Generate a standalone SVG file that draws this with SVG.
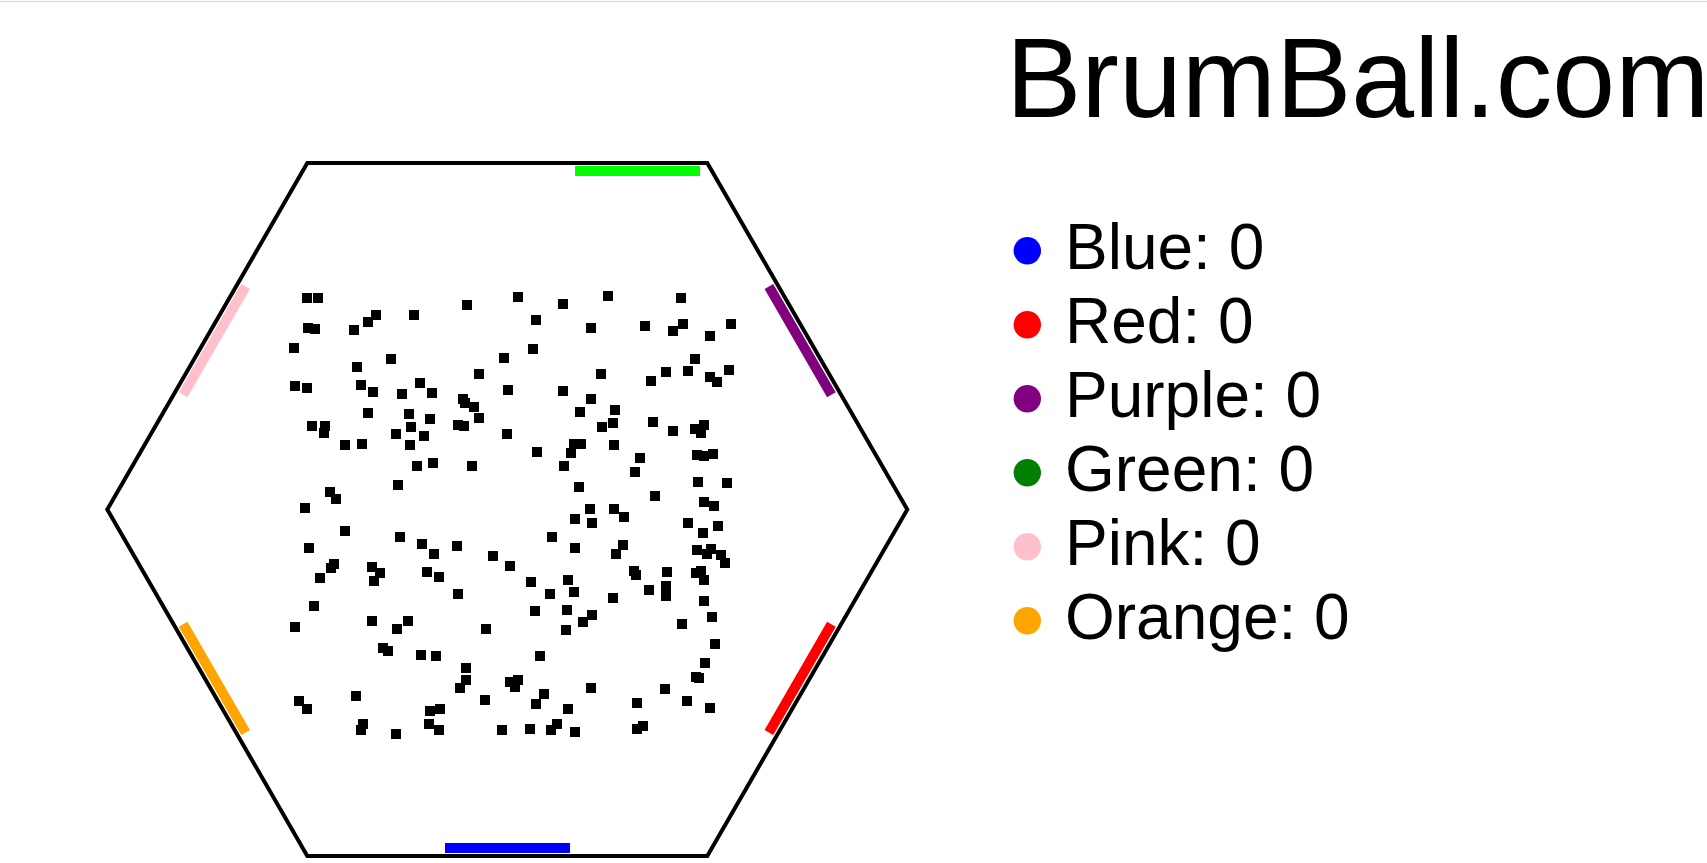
<svg xmlns="http://www.w3.org/2000/svg" width="1707" height="863" viewBox="0 0 1707 863">
<style>
.b{fill:#000}
.goal{stroke-width:10;stroke-linecap:butt}
.lg{font-family:"Liberation Sans",Arial,sans-serif;font-size:64px;fill:#000}
.title{font-family:"Liberation Sans",Arial,sans-serif;font-size:113px;fill:#000}
</style>
<rect x="0" y="0" width="1707" height="863" fill="#fff"/>
<rect x="0" y="1" width="1707" height="1" fill="#d3d3d3"/>
<g id="arena">
<polygon points="907.3,509.5 707.3,855.9 307.3,855.9 107.3,509.5 307.3,163.1 707.3,163.1" fill="none" stroke="#000" stroke-width="4"/>
</g>
<g id="goals">
<line id="goal-green" class="goal" x1="575" y1="171" x2="700" y2="171" stroke="#00ff00"/>
<line id="goal-blue" class="goal" x1="445" y1="848" x2="570" y2="848" stroke="#0000ff"/>
<line id="goal-pink" class="goal" x1="245.6" y1="286.5" x2="183.1" y2="394.7" stroke="#ffc0cb"/>
<line id="goal-purple" class="goal" x1="768.9" y1="286.5" x2="831.4" y2="394.7" stroke="#800080"/>
<line id="goal-red" class="goal" x1="831.4" y1="624.3" x2="768.9" y2="732.5" stroke="#ff0000"/>
<line id="goal-orange" class="goal" x1="183.1" y1="624.3" x2="245.6" y2="732.5" stroke="#ffa500"/>
</g>
<g id="balls">
<rect class="b" x="302" y="293" width="10" height="10"/>
<rect class="b" x="313" y="293" width="10" height="10"/>
<rect class="b" x="462" y="300" width="10" height="10"/>
<rect class="b" x="371" y="310" width="10" height="10"/>
<rect class="b" x="409" y="310" width="10" height="10"/>
<rect class="b" x="363" y="317" width="10" height="10"/>
<rect class="b" x="303" y="323" width="10" height="10"/>
<rect class="b" x="310" y="324" width="10" height="10"/>
<rect class="b" x="349" y="325" width="10" height="10"/>
<rect class="b" x="289" y="343" width="10" height="10"/>
<rect class="b" x="386" y="354" width="10" height="10"/>
<rect class="b" x="499" y="353" width="10" height="10"/>
<rect class="b" x="352" y="362" width="10" height="10"/>
<rect class="b" x="474" y="369" width="10" height="10"/>
<rect class="b" x="290" y="381" width="10" height="10"/>
<rect class="b" x="302" y="383" width="10" height="10"/>
<rect class="b" x="356" y="380" width="10" height="10"/>
<rect class="b" x="368" y="387" width="10" height="10"/>
<rect class="b" x="415" y="378" width="10" height="10"/>
<rect class="b" x="397" y="389" width="10" height="10"/>
<rect class="b" x="427" y="388" width="10" height="10"/>
<rect class="b" x="458" y="394" width="10" height="10"/>
<rect class="b" x="460" y="398" width="10" height="10"/>
<rect class="b" x="469" y="402" width="10" height="10"/>
<rect class="b" x="503" y="385" width="10" height="10"/>
<rect class="b" x="363" y="408" width="10" height="10"/>
<rect class="b" x="404" y="409" width="10" height="10"/>
<rect class="b" x="425" y="414" width="10" height="10"/>
<rect class="b" x="474" y="413" width="10" height="10"/>
<rect class="b" x="307" y="421" width="10" height="10"/>
<rect class="b" x="320" y="421" width="10" height="10"/>
<rect class="b" x="319" y="428" width="10" height="10"/>
<rect class="b" x="406" y="422" width="10" height="10"/>
<rect class="b" x="453" y="420" width="10" height="10"/>
<rect class="b" x="459" y="421" width="10" height="10"/>
<rect class="b" x="391" y="429" width="10" height="10"/>
<rect class="b" x="419" y="431" width="10" height="10"/>
<rect class="b" x="502" y="429" width="10" height="10"/>
<rect class="b" x="340" y="440" width="10" height="10"/>
<rect class="b" x="357" y="439" width="10" height="10"/>
<rect class="b" x="405" y="440" width="10" height="10"/>
<rect class="b" x="412" y="461" width="10" height="10"/>
<rect class="b" x="428" y="458" width="10" height="10"/>
<rect class="b" x="467" y="461" width="10" height="10"/>
<rect class="b" x="393" y="480" width="10" height="10"/>
<rect class="b" x="325" y="487" width="10" height="10"/>
<rect class="b" x="331" y="494" width="10" height="10"/>
<rect class="b" x="300" y="503" width="10" height="10"/>
<rect class="b" x="340" y="526" width="10" height="10"/>
<rect class="b" x="395" y="532" width="10" height="10"/>
<rect class="b" x="304" y="543" width="10" height="10"/>
<rect class="b" x="417" y="539" width="10" height="10"/>
<rect class="b" x="452" y="541" width="10" height="10"/>
<rect class="b" x="429" y="549" width="10" height="10"/>
<rect class="b" x="488" y="551" width="10" height="10"/>
<rect class="b" x="329" y="559" width="10" height="10"/>
<rect class="b" x="326" y="563" width="10" height="10"/>
<rect class="b" x="367" y="562" width="10" height="10"/>
<rect class="b" x="375" y="568" width="10" height="10"/>
<rect class="b" x="369" y="576" width="10" height="10"/>
<rect class="b" x="422" y="567" width="10" height="10"/>
<rect class="b" x="434" y="572" width="10" height="10"/>
<rect class="b" x="505" y="561" width="10" height="10"/>
<rect class="b" x="315" y="573" width="10" height="10"/>
<rect class="b" x="453" y="589" width="10" height="10"/>
<rect class="b" x="309" y="601" width="10" height="10"/>
<rect class="b" x="290" y="622" width="10" height="10"/>
<rect class="b" x="367" y="616" width="10" height="10"/>
<rect class="b" x="403" y="616" width="10" height="10"/>
<rect class="b" x="392" y="624" width="10" height="10"/>
<rect class="b" x="481" y="624" width="10" height="10"/>
<rect class="b" x="378" y="643" width="10" height="10"/>
<rect class="b" x="383" y="646" width="10" height="10"/>
<rect class="b" x="416" y="650" width="10" height="10"/>
<rect class="b" x="431" y="651" width="10" height="10"/>
<rect class="b" x="461" y="663" width="10" height="10"/>
<rect class="b" x="461" y="675" width="10" height="10"/>
<rect class="b" x="455" y="683" width="10" height="10"/>
<rect class="b" x="505" y="677" width="10" height="10"/>
<rect class="b" x="351" y="691" width="10" height="10"/>
<rect class="b" x="294" y="696" width="10" height="10"/>
<rect class="b" x="302" y="704" width="10" height="10"/>
<rect class="b" x="480" y="695" width="10" height="10"/>
<rect class="b" x="425" y="706" width="10" height="10"/>
<rect class="b" x="435" y="704" width="10" height="10"/>
<rect class="b" x="358" y="719" width="10" height="10"/>
<rect class="b" x="356" y="725" width="10" height="10"/>
<rect class="b" x="424" y="719" width="10" height="10"/>
<rect class="b" x="434" y="725" width="10" height="10"/>
<rect class="b" x="391" y="729" width="10" height="10"/>
<rect class="b" x="497" y="725" width="10" height="10"/>
<rect class="b" x="513" y="292" width="10" height="10"/>
<rect class="b" x="558" y="299" width="10" height="10"/>
<rect class="b" x="603" y="291" width="10" height="10"/>
<rect class="b" x="676" y="293" width="10" height="10"/>
<rect class="b" x="531" y="315" width="10" height="10"/>
<rect class="b" x="586" y="323" width="10" height="10"/>
<rect class="b" x="640" y="321" width="10" height="10"/>
<rect class="b" x="668" y="326" width="10" height="10"/>
<rect class="b" x="678" y="319" width="10" height="10"/>
<rect class="b" x="726" y="319" width="10" height="10"/>
<rect class="b" x="705" y="331" width="10" height="10"/>
<rect class="b" x="528" y="344" width="10" height="10"/>
<rect class="b" x="690" y="354" width="10" height="10"/>
<rect class="b" x="596" y="369" width="10" height="10"/>
<rect class="b" x="661" y="367" width="10" height="10"/>
<rect class="b" x="683" y="366" width="10" height="10"/>
<rect class="b" x="646" y="376" width="10" height="10"/>
<rect class="b" x="705" y="372" width="10" height="10"/>
<rect class="b" x="712" y="377" width="10" height="10"/>
<rect class="b" x="724" y="365" width="10" height="10"/>
<rect class="b" x="558" y="386" width="10" height="10"/>
<rect class="b" x="586" y="394" width="10" height="10"/>
<rect class="b" x="575" y="407" width="10" height="10"/>
<rect class="b" x="610" y="405" width="10" height="10"/>
<rect class="b" x="597" y="422" width="10" height="10"/>
<rect class="b" x="608" y="418" width="10" height="10"/>
<rect class="b" x="648" y="417" width="10" height="10"/>
<rect class="b" x="668" y="426" width="10" height="10"/>
<rect class="b" x="690" y="424" width="10" height="10"/>
<rect class="b" x="699" y="420" width="10" height="10"/>
<rect class="b" x="696" y="428" width="10" height="10"/>
<rect class="b" x="569" y="439" width="10" height="10"/>
<rect class="b" x="576" y="439" width="10" height="10"/>
<rect class="b" x="566" y="448" width="10" height="10"/>
<rect class="b" x="609" y="440" width="10" height="10"/>
<rect class="b" x="532" y="447" width="10" height="10"/>
<rect class="b" x="559" y="461" width="10" height="10"/>
<rect class="b" x="635" y="453" width="10" height="10"/>
<rect class="b" x="630" y="467" width="10" height="10"/>
<rect class="b" x="692" y="450" width="10" height="10"/>
<rect class="b" x="699" y="451" width="10" height="10"/>
<rect class="b" x="708" y="449" width="10" height="10"/>
<rect class="b" x="574" y="482" width="10" height="10"/>
<rect class="b" x="650" y="491" width="10" height="10"/>
<rect class="b" x="693" y="477" width="10" height="10"/>
<rect class="b" x="722" y="478" width="10" height="10"/>
<rect class="b" x="699" y="497" width="10" height="10"/>
<rect class="b" x="709" y="501" width="10" height="10"/>
<rect class="b" x="585" y="504" width="10" height="10"/>
<rect class="b" x="609" y="504" width="10" height="10"/>
<rect class="b" x="619" y="512" width="10" height="10"/>
<rect class="b" x="570" y="514" width="10" height="10"/>
<rect class="b" x="587" y="518" width="10" height="10"/>
<rect class="b" x="683" y="518" width="10" height="10"/>
<rect class="b" x="713" y="521" width="10" height="10"/>
<rect class="b" x="698" y="528" width="10" height="10"/>
<rect class="b" x="547" y="532" width="10" height="10"/>
<rect class="b" x="570" y="543" width="10" height="10"/>
<rect class="b" x="618" y="540" width="10" height="10"/>
<rect class="b" x="611" y="549" width="10" height="10"/>
<rect class="b" x="692" y="545" width="10" height="10"/>
<rect class="b" x="702" y="549" width="10" height="10"/>
<rect class="b" x="706" y="544" width="10" height="10"/>
<rect class="b" x="716" y="550" width="10" height="10"/>
<rect class="b" x="720" y="558" width="10" height="10"/>
<rect class="b" x="629" y="566" width="10" height="10"/>
<rect class="b" x="631" y="570" width="10" height="10"/>
<rect class="b" x="662" y="567" width="10" height="10"/>
<rect class="b" x="691" y="568" width="10" height="10"/>
<rect class="b" x="696" y="566" width="10" height="10"/>
<rect class="b" x="699" y="575" width="10" height="10"/>
<rect class="b" x="526" y="577" width="10" height="10"/>
<rect class="b" x="563" y="575" width="10" height="10"/>
<rect class="b" x="644" y="585" width="10" height="10"/>
<rect class="b" x="661" y="581" width="10" height="10"/>
<rect class="b" x="661" y="591" width="10" height="10"/>
<rect class="b" x="545" y="589" width="10" height="10"/>
<rect class="b" x="569" y="587" width="10" height="10"/>
<rect class="b" x="608" y="593" width="10" height="10"/>
<rect class="b" x="699" y="596" width="10" height="10"/>
<rect class="b" x="530" y="606" width="10" height="10"/>
<rect class="b" x="562" y="605" width="10" height="10"/>
<rect class="b" x="587" y="610" width="10" height="10"/>
<rect class="b" x="578" y="617" width="10" height="10"/>
<rect class="b" x="707" y="612" width="10" height="10"/>
<rect class="b" x="677" y="619" width="10" height="10"/>
<rect class="b" x="561" y="625" width="10" height="10"/>
<rect class="b" x="710" y="639" width="10" height="10"/>
<rect class="b" x="535" y="651" width="10" height="10"/>
<rect class="b" x="700" y="658" width="10" height="10"/>
<rect class="b" x="691" y="672" width="10" height="10"/>
<rect class="b" x="694" y="673" width="10" height="10"/>
<rect class="b" x="513" y="675" width="10" height="10"/>
<rect class="b" x="510" y="682" width="10" height="10"/>
<rect class="b" x="586" y="683" width="10" height="10"/>
<rect class="b" x="660" y="684" width="10" height="10"/>
<rect class="b" x="539" y="689" width="10" height="10"/>
<rect class="b" x="531" y="699" width="10" height="10"/>
<rect class="b" x="563" y="704" width="10" height="10"/>
<rect class="b" x="632" y="698" width="10" height="10"/>
<rect class="b" x="682" y="696" width="10" height="10"/>
<rect class="b" x="705" y="703" width="10" height="10"/>
<rect class="b" x="552" y="719" width="10" height="10"/>
<rect class="b" x="546" y="725" width="10" height="10"/>
<rect class="b" x="525" y="724" width="10" height="10"/>
<rect class="b" x="570" y="727" width="10" height="10"/>
<rect class="b" x="632" y="724" width="10" height="10"/>
<rect class="b" x="638" y="721" width="10" height="10"/>
</g>
<g id="title"><text class="title" x="1006" y="117">BrumBall.com</text></g>
<g id="legend">
<g id="legend-blue"><circle cx="1027.3" cy="250.7" r="13.7" fill="#0000ff"/><text class="lg" x="1065" y="269.3">Blue: 0</text></g>
<g id="legend-red"><circle cx="1027.3" cy="324.7" r="13.7" fill="#ff0000"/><text class="lg" x="1065" y="343.3">Red: 0</text></g>
<g id="legend-purple"><circle cx="1027.3" cy="398.7" r="13.7" fill="#800080"/><text class="lg" x="1065" y="417.3">Purple: 0</text></g>
<g id="legend-green"><circle cx="1027.3" cy="472.7" r="13.7" fill="#008000"/><text class="lg" x="1065" y="491.3">Green: 0</text></g>
<g id="legend-pink"><circle cx="1027.3" cy="546.7" r="13.7" fill="#ffc0cb"/><text class="lg" x="1065" y="565.3">Pink: 0</text></g>
<g id="legend-orange"><circle cx="1027.3" cy="620.7" r="13.7" fill="#ffa500"/><text class="lg" x="1065" y="639.3">Orange: 0</text></g>
</g>
</svg>
